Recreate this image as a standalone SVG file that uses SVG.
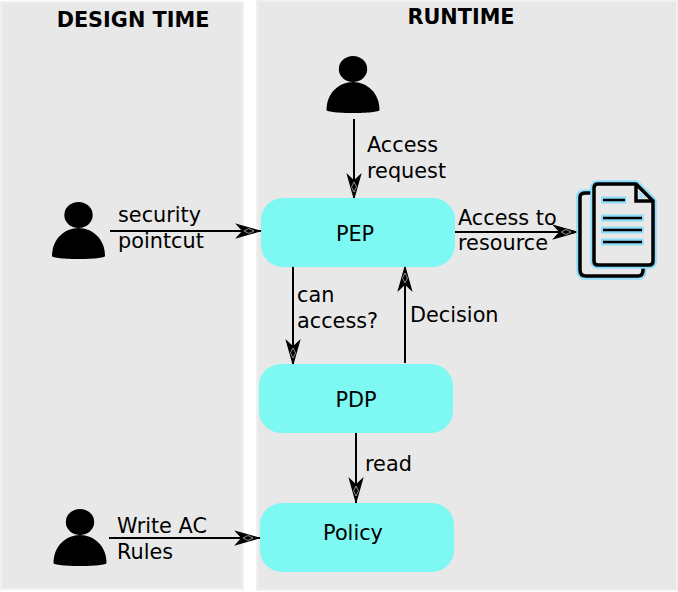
<svg xmlns="http://www.w3.org/2000/svg" width="678" height="592" viewBox="0 0 678 592">
<style>
text{font-family:"DejaVu Sans",sans-serif;font-size:20.8px;fill:#000}
.h{font-weight:bold;font-size:20.8px;text-anchor:middle}
.c{text-anchor:middle}
.panel{fill:#e8e8e8;stroke:#f0f0f0;stroke-width:2}
.box{fill:#7df8f2}
.conn{fill:none;stroke:#000;stroke-width:2;marker-end:url(#a)}
.doc{fill:#e8e8e8;stroke:#000;stroke-width:3.500;stroke-linejoin:round}
.halo{fill:none;stroke:#8cdcfa;stroke-width:7.500;stroke-linejoin:round}
.ln{stroke:#000;stroke-width:2.500}
.lh{stroke:#8cdcfa;stroke-width:7}
</style>
<defs>
<marker id="a" markerUnits="userSpaceOnUse" markerWidth="30" markerHeight="20" refX="26" refY="10" viewBox="0 0 30 20" orient="auto">
<path d="M2 3.500L25 10L2 16.500L8 10Z" fill="#000" stroke="#000" stroke-width="1.200" stroke-linejoin="miter"/>
<path d="M9 10L14 7.500L19 10L14 12.500Z" fill="none" stroke="#c8c8c8" stroke-width=".7"/>
</marker>
<g id="u"><ellipse cx="0" cy="-44" rx="14.200" ry="13"/><path d="M-26.500 -3C-26.500 -20 -14 -31 0 -31C14 -31 26.500 -20 26.500 -3C26.500 1 -26.500 1 -26.500 -3Z"/></g>
</defs>
<rect width="678" height="592" fill="#fff"/>
<g id="design-time"><rect class="panel" x="1" y="2" width="242" height="587"/><text class="h" x="133" y="27">DESIGN TIME</text></g>
<g id="runtime"><rect class="panel" x="257" y="1" width="420" height="589"/><text class="h" x="461" y="24">RUNTIME</text></g>
<g id="connectors">
<path class="conn" d="M354 119V199"/>
<path class="conn" d="M110 231H261"/>
<path class="conn" d="M455 232H578"/>
<path class="conn" d="M293 267V365"/>
<path class="conn" d="M405 363V266"/>
<path class="conn" d="M356 433V503"/>
<path class="conn" d="M109 538H260"/>
</g>
<g id="user-runtime"><use href="#u" x="353" y="113"/></g>
<g id="user-security"><use href="#u" x="78.500" y="259"/></g>
<g id="user-rules"><use href="#u" x="80" y="566"/></g>
<g id="pep"><rect class="box" x="261" y="198" width="194" height="69" rx="22"/><text class="c" x="355" y="241">PEP</text></g>
<g id="pdp"><rect class="box" x="259" y="364" width="194" height="69" rx="22"/><text class="c" x="356" y="407">PDP</text></g>
<g id="policy"><rect class="box" x="260" y="503" width="194" height="69" rx="22"/><text class="c" x="353" y="540">Policy</text></g>
<g id="labels">
<text x="367" y="152">Access</text><text x="367" y="178">request</text>
<text x="118" y="222">security</text><text x="118" y="248">pointcut</text>
<text x="458" y="225">Access to</text><text x="458" y="250">resource</text>
<text x="297" y="302">can</text><text x="297" y="328">access?</text>
<text x="410" y="322">Decision</text>
<text x="365" y="471">read</text>
<text x="117" y="533">Write AC</text><text x="117" y="559">Rules</text>
</g>
<g id="document">
<path class="halo" d="M580 197V270Q580 276 586 276H638Q643 276 643 270V197Q643 193 638 193H586Q580 193 580 197Z"/>
<path class="doc" d="M580 197V270Q580 276 586 276H638Q643 276 643 270V197Q643 193 638 193H586Q580 193 580 197Z"/>
<path class="halo" d="M594 188Q594 184 598 184H636L653 201V261Q653 265 649 265H598Q594 265 594 261Z"/>
<path class="doc" d="M594 188Q594 184 598 184H636L653 201V261Q653 265 649 265H598Q594 265 594 261Z"/>
<path d="M636 185V201H652" fill="none" stroke="#000" stroke-width="3.500"/>
<path d="M639 191V198H646Z" fill="#a8e2f8"/>
<path class="lh" d="M601 200H626.500M601 218H643.500M601 230H643.500M601 242H643.500"/>
<path class="ln" d="M603 200H625M603 218H642M603 230H642M603 242H642"/>
</g>
</svg>
